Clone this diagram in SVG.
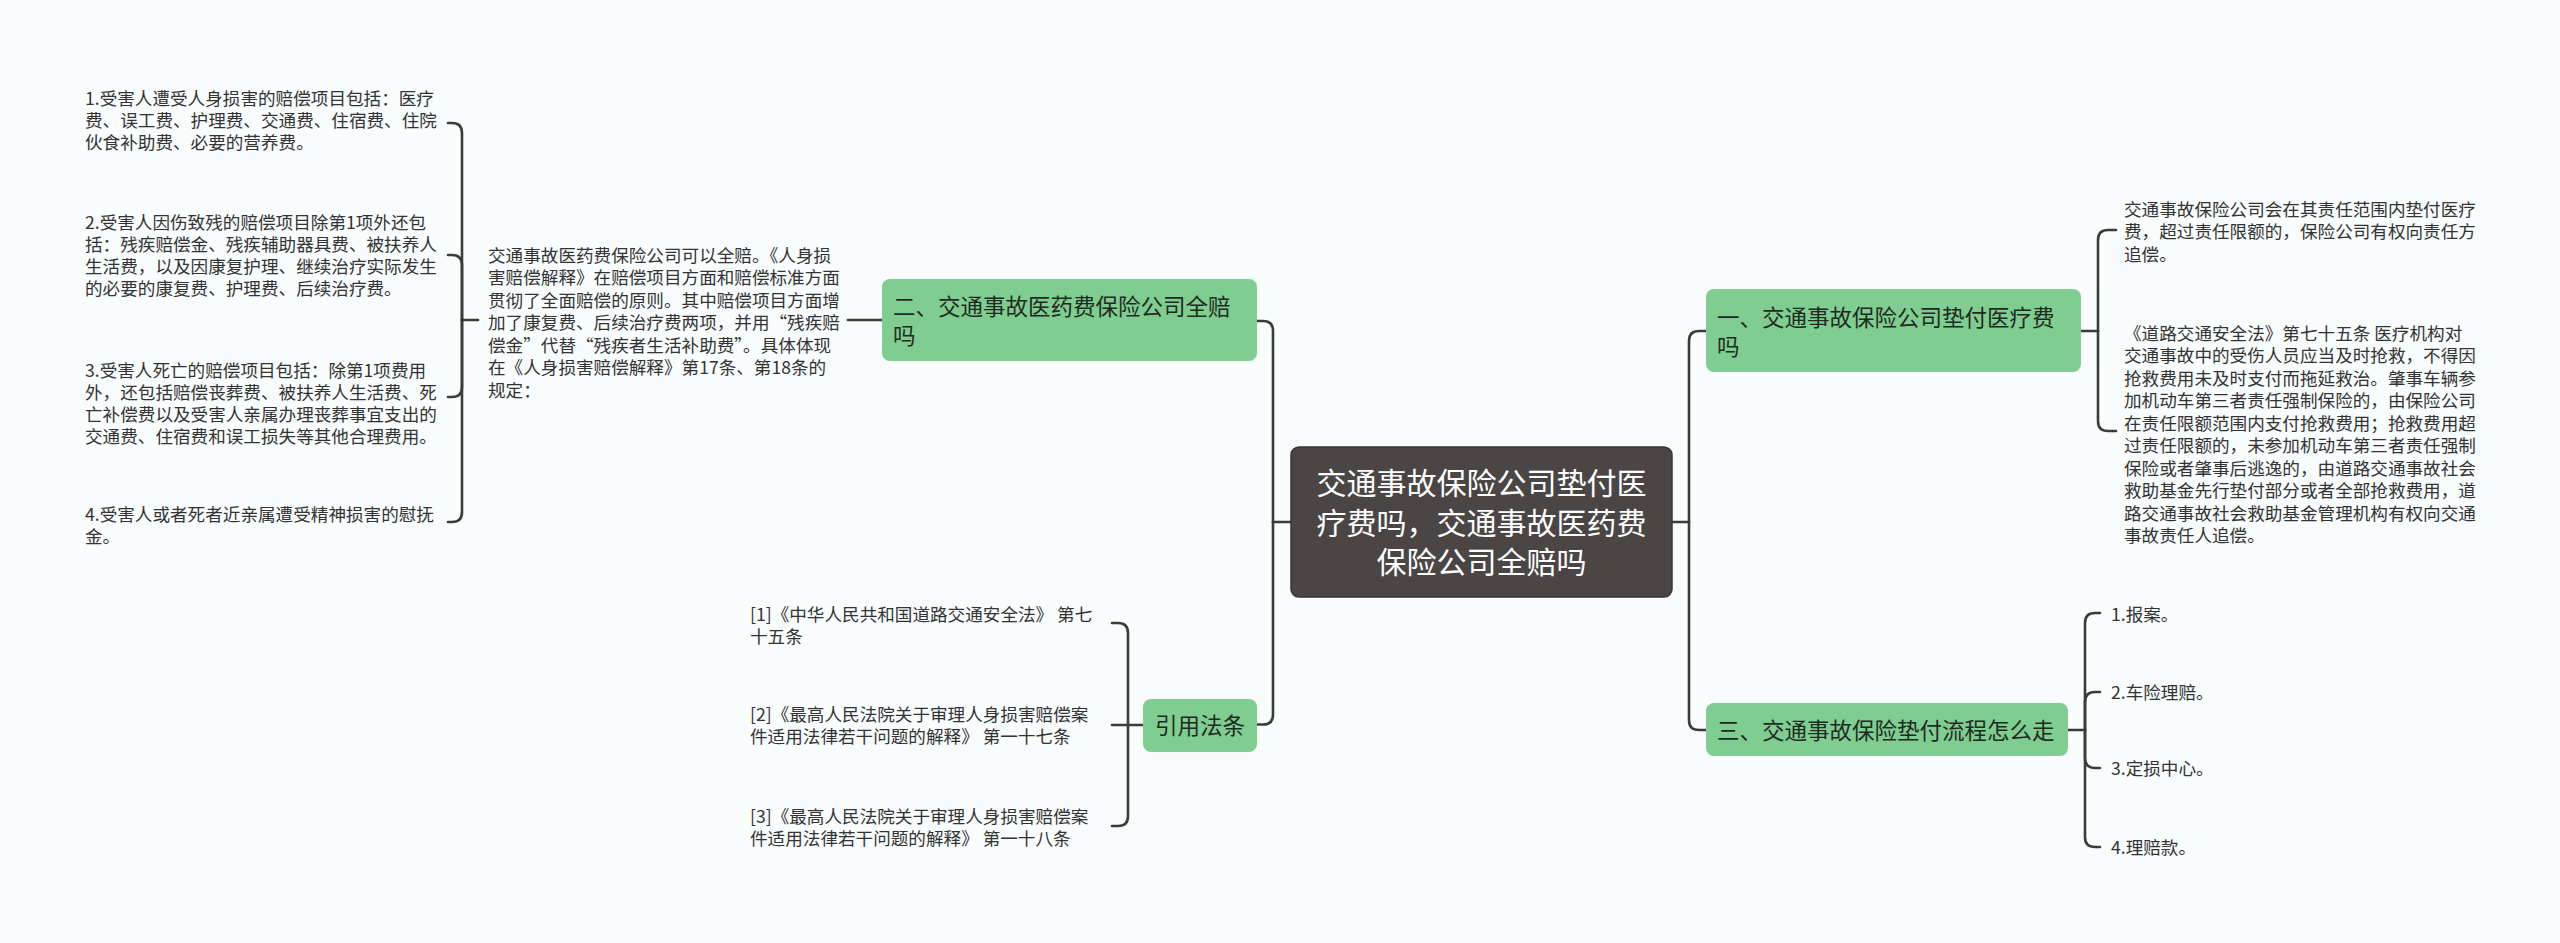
<svg xmlns="http://www.w3.org/2000/svg" width="2560" height="943" viewBox="0 0 2560 943">
<style>
.t{font-family:"Noto Sans CJK SC","Microsoft YaHei",sans-serif;font-size:17.6px;fill:#333333;}
.gt{font-family:"Noto Sans CJK SC","Microsoft YaHei",sans-serif;font-size:22.5px;fill:#1f2b21;}
.ct{font-family:"Noto Sans CJK SC","Microsoft YaHei",sans-serif;font-size:30px;fill:#ffffff;text-anchor:middle;}
.g{fill:#7fcd91;}
.ln{fill:none;stroke:#3b3b3b;stroke-width:2.6;stroke-linecap:round;}
</style>
<rect x="0" y="0" width="2560" height="943" fill="#f8fcfd"/>
<g id="connectors">
  <path class="ln" d="M1291,522 H1273"/>
  <path class="ln" d="M1273,522 V331 Q1273,321 1263,321 H1257"/>
  <path class="ln" d="M1273,522 V714.5 Q1273,724.5 1263,724.5 H1257"/>
  <path class="ln" d="M1672,522 H1689"/>
  <path class="ln" d="M1689,522 V341 Q1689,331 1699,331 H1706"/>
  <path class="ln" d="M1689,522 V720 Q1689,730 1699,730 H1706"/>
  <path class="ln" d="M882,320 H848"/>
  <path class="ln" d="M478,320 H462"/>
  <path class="ln" d="M462,320 V133 Q462,123 452,123 H448"/>
  <path class="ln" d="M462,320 V265 Q462,255 452,255 H448"/>
  <path class="ln" d="M462,320 V387 Q462,397 452,397 H448"/>
  <path class="ln" d="M462,320 V512 Q462,522 452,522 H448"/>
  <path class="ln" d="M1143,725 H1128"/>
  <path class="ln" d="M1128,725 V633 Q1128,623 1118,623 H1112"/>
  <path class="ln" d="M1128,725 H1112"/>
  <path class="ln" d="M1128,725 V816 Q1128,826 1118,826 H1112"/>
  <path class="ln" d="M2081,331 H2098"/>
  <path class="ln" d="M2098,331 V240 Q2098,230 2108,230 H2116"/>
  <path class="ln" d="M2098,331 V421 Q2098,431 2108,431 H2116"/>
  <path class="ln" d="M2068,730 H2085"/>
  <path class="ln" d="M2085,730 V623 Q2085,613 2095,613 H2100"/>
  <path class="ln" d="M2085,730 V702 Q2085,692 2095,692 H2100"/>
  <path class="ln" d="M2085,730 V758 Q2085,768 2095,768 H2100"/>
  <path class="ln" d="M2085,730 V837 Q2085,847 2095,847 H2100"/>
</g>
<g id="root">
  <rect x="1291" y="447" width="381" height="150" rx="8" fill="#4b4645" stroke="#3a3535" stroke-width="1.5"/>
  <text class="ct" x="1481.5" y="494">交通事故保险公司垫付医</text>
  <text class="ct" x="1481.5" y="533.5">疗费吗，交通事故医药费</text>
  <text class="ct" x="1481.5" y="573">保险公司全赔吗</text>
</g>
<g id="n1">
  <rect class="g" x="1706" y="289" width="375" height="83" rx="8"/>
  <text class="gt" x="1717" y="325.5">一、交通事故保险公司垫付医疗费</text>
  <text class="gt" x="1717" y="354.5">吗</text>
</g>
<g id="n2">
  <rect class="g" x="882" y="279" width="375" height="82" rx="8"/>
  <text class="gt" x="893" y="314.5">二、交通事故医药费保险公司全赔</text>
  <text class="gt" x="893" y="343.5">吗</text>
</g>
<g id="n3">
  <rect class="g" x="1706" y="703" width="362" height="53" rx="8"/>
  <text class="gt" x="1717" y="738.5">三、交通事故保险垫付流程怎么走</text>
</g>
<g id="n4">
  <rect class="g" x="1143" y="699" width="114" height="53" rx="8"/>
  <text class="gt" x="1200" y="733.5" text-anchor="middle">引用法条</text>
</g>
<g id="n1a">
  <text class="t" x="2124" y="215.7">交通事故保险公司会在其责任范围内垫付医疗</text>
  <text class="t" x="2124" y="238.2">费，超过责任限额的，保险公司有权向责任方</text>
  <text class="t" x="2124" y="260.7">追偿。</text>
</g>
<g id="n1b">
  <text class="t" x="2124" y="339.7">《道路交通安全法》第七十五条 医疗机构对</text>
  <text class="t" x="2124" y="362.2">交通事故中的受伤人员应当及时抢救，不得因</text>
  <text class="t" x="2124" y="384.7">抢救费用未及时支付而拖延救治。肇事车辆参</text>
  <text class="t" x="2124" y="407.2">加机动车第三者责任强制保险的，由保险公司</text>
  <text class="t" x="2124" y="429.7">在责任限额范围内支付抢救费用；抢救费用超</text>
  <text class="t" x="2124" y="452.2">过责任限额的，未参加机动车第三者责任强制</text>
  <text class="t" x="2124" y="474.7">保险或者肇事后逃逸的，由道路交通事故社会</text>
  <text class="t" x="2124" y="497.2">救助基金先行垫付部分或者全部抢救费用，道</text>
  <text class="t" x="2124" y="519.7">路交通事故社会救助基金管理机构有权向交通</text>
  <text class="t" x="2124" y="542.2">事故责任人追偿。</text>
</g>
<g id="n3a"><text class="t" x="2111" y="620.7">1.报案。</text></g>
<g id="n3b"><text class="t" x="2111" y="698.7">2.车险理赔。</text></g>
<g id="n3c"><text class="t" x="2111" y="774.7">3.定损中心。</text></g>
<g id="n3d"><text class="t" x="2111" y="853.7">4.理赔款。</text></g>
<g id="n2a">
  <text class="t" x="488" y="261.7">交通事故医药费保险公司可以全赔。《人身损</text>
  <text class="t" x="488" y="284.2">害赔偿解释》在赔偿项目方面和赔偿标准方面</text>
  <text class="t" x="488" y="306.7">贯彻了全面赔偿的原则。其中赔偿项目方面增</text>
  <text class="t" x="488" y="329.2">加了康复费、后续治疗费两项，并用“残疾赔</text>
  <text class="t" x="488" y="351.7">偿金”代替“残疾者生活补助费”。具体体现</text>
  <text class="t" x="488" y="374.2">在《人身损害赔偿解释》第17条、第18条的</text>
  <text class="t" x="488" y="396.7">规定：</text>
</g>
<g id="i1">
  <text class="t" x="85" y="104.7">1.受害人遭受人身损害的赔偿项目包括：医疗</text>
  <text class="t" x="85" y="126.7">费、误工费、护理费、交通费、住宿费、住院</text>
  <text class="t" x="85" y="148.7">伙食补助费、必要的营养费。</text>
</g>
<g id="i2">
  <text class="t" x="85" y="228.7">2.受害人因伤致残的赔偿项目除第1项外还包</text>
  <text class="t" x="85" y="250.7">括：残疾赔偿金、残疾辅助器具费、被扶养人</text>
  <text class="t" x="85" y="272.7">生活费，以及因康复护理、继续治疗实际发生</text>
  <text class="t" x="85" y="294.7">的必要的康复费、护理费、后续治疗费。</text>
</g>
<g id="i3">
  <text class="t" x="85" y="376.7">3.受害人死亡的赔偿项目包括：除第1项费用</text>
  <text class="t" x="85" y="398.7">外，还包括赔偿丧葬费、被扶养人生活费、死</text>
  <text class="t" x="85" y="420.7">亡补偿费以及受害人亲属办理丧葬事宜支出的</text>
  <text class="t" x="85" y="442.7">交通费、住宿费和误工损失等其他合理费用。</text>
</g>
<g id="i4">
  <text class="t" x="85" y="520.7">4.受害人或者死者近亲属遭受精神损害的慰抚</text>
  <text class="t" x="85" y="542.7">金。</text>
</g>
<g id="c1">
  <text class="t" x="750" y="620.7">[1]《中华人民共和国道路交通安全法》 第七</text>
  <text class="t" x="750" y="642.7">十五条</text>
</g>
<g id="c2">
  <text class="t" x="750" y="720.7">[2]《最高人民法院关于审理人身损害赔偿案</text>
  <text class="t" x="750" y="742.7">件适用法律若干问题的解释》 第一十七条</text>
</g>
<g id="c3">
  <text class="t" x="750" y="822.7">[3]《最高人民法院关于审理人身损害赔偿案</text>
  <text class="t" x="750" y="844.7">件适用法律若干问题的解释》 第一十八条</text>
</g>
</svg>
